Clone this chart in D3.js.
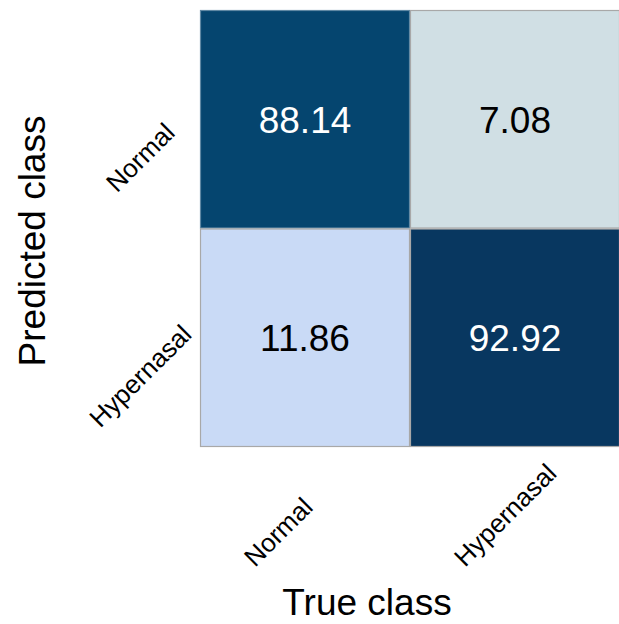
<!DOCTYPE html>
<html>
<head>
<meta charset="utf-8">
<script src="https://cdn.jsdelivr.net/npm/d3@7"></script>
<style>
  html, body { margin: 0; padding: 0; background: #fff; }
  svg { display: block; }
  text { font-family: Arial, "Liberation Sans", sans-serif; }
</style>
</head>
<body>
<div id="chart"></div>
<script>
// ---- data ----
const trueClasses = ["Normal", "Hypernasal"];        // columns (x)
const predictedClasses = ["Normal", "Hypernasal"];   // rows (y)
const rowNormal = [88.14, 7.08];
const rowHypernasal = [11.86, 92.92];
const xTitle = "True class";
const yTitle = "Predicted class";

// ---- styles ----
const W = 619, H = 624;
const cellColors = ["#05456f", "#d0dfe4", "#c9daf6", "#083760"];
const textColors = ["#ffffff", "#000000", "#000000", "#ffffff"];

const rows = [rowNormal, rowHypernasal];
const cells = [];
predictedClasses.forEach((p, i) => {
  trueClasses.forEach((t, j) => {
    cells.push({ pred: p, tru: t, value: rows[i][j], idx: i * trueClasses.length + j });
  });
});

const svg = d3.select("#chart").append("svg")
  .attr("width", W).attr("height", H);

const x = d3.scaleBand().domain(trueClasses).range([200, 620]).padding(0);
const y = d3.scaleBand().domain(predictedClasses).range([10, 447]).padding(0);
const fill = d3.scaleOrdinal().domain(d3.range(4)).range(cellColors);
const tfill = d3.scaleOrdinal().domain(d3.range(4)).range(textColors);

const g = svg.append("g");
g.selectAll("rect.cell").data(cells).join("rect")
  .attr("class", "cell")
  .attr("x", d => x(d.tru) + 0.5)
  .attr("y", d => y(d.pred) + 0.5)
  .attr("width", x.bandwidth() - 1)
  .attr("height", y.bandwidth() - 1)
  .attr("fill", d => fill(d.idx))
  .attr("stroke", d => d.idx === 0 ? "#5f88a4" : "#a8a8a8")
  .attr("stroke-width", 1.2);

g.selectAll("text.val").data(cells).join("text")
  .attr("class", "val")
  .attr("x", d => x(d.tru) + x.bandwidth() / 2)
  .attr("y", d => y(d.pred) + y.bandwidth() / 2)
  .attr("dy", "0.36em")
  .attr("text-anchor", "middle")
  .attr("font-size", 37)
  .attr("fill", d => tfill(d.idx))
  .text(d => d.value.toFixed(2));

// x axis tick labels (rotated)
const xAxis = d3.axisBottom(x).tickSize(0).tickPadding(0);
const xg = svg.append("g").attr("transform", "translate(0,447)").call(xAxis);
xg.select(".domain").remove();
xg.selectAll(".tick text")
  .attr("font-size", 26)
  .attr("font-family", "Arial, 'Liberation Sans', sans-serif")
  .attr("fill", "#000")
  .attr("text-anchor", "start")
  .attr("dy", null)
  .attr("y", 0)
  .attr("transform", "translate(-50,121) rotate(-45)");

// y axis tick labels (rotated)
const yAxis = d3.axisLeft(y).tickSize(0).tickPadding(0);
const yg = svg.append("g").attr("transform", "translate(200,0)").call(yAxis);
yg.select(".domain").remove();
yg.selectAll(".tick text")
  .attr("font-size", 26)
  .attr("font-family", "Arial, 'Liberation Sans', sans-serif")
  .attr("fill", "#000")
  .attr("text-anchor", "middle")
  .attr("x", 0)
  .attr("dy", "0.36em")
  .attr("transform", "translate(-60,38) rotate(-45)");

// axis titles
svg.append("text")
  .attr("x", 367).attr("y", 615)
  .attr("text-anchor", "middle")
  .attr("font-size", 37)
  .attr("fill", "#000")
  .text(xTitle);

svg.append("text")
  .attr("transform", "translate(45,241) rotate(-90)")
  .attr("text-anchor", "middle")
  .attr("font-size", 37)
  .attr("fill", "#000")
  .text(yTitle);
</script>
</body>
</html>
